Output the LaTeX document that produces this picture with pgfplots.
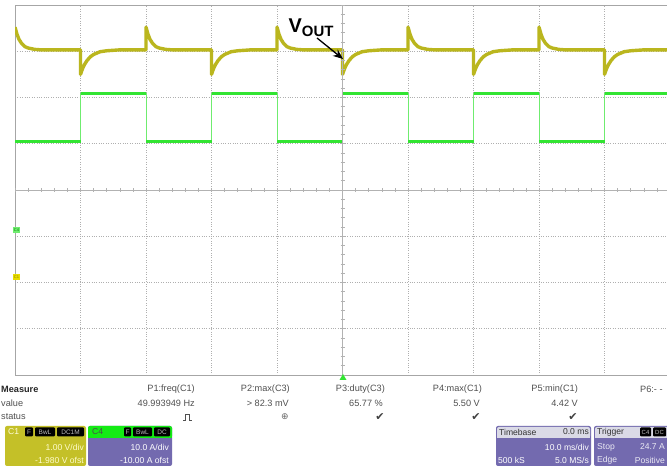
\documentclass[border=0pt]{standalone}
\usepackage{pgfplots}
\pgfplotsset{compat=1.18}
\usepackage{fontspec}
\setmainfont{Liberation Sans}
\newfontfamily\dejavu{DejaVu Sans}
\usetikzlibrary{arrows.meta}
\definecolor{ytrace}{RGB}{186,182,30}
\definecolor{gtrace}{RGB}{50,228,50}
\definecolor{gridc}{RGB}{175,175,175}
\definecolor{boxp}{RGB}{115,106,175}
\definecolor{boxy}{RGB}{196,192,40}
\definecolor{hdr}{RGB}{218,218,230}
\definecolor{txt}{RGB}{80,80,80}
\definecolor{greenhdr}{RGB}{20,235,20}

\begin{document}
\begin{tikzpicture}[x=1bp,y=1bp]
\useasboundingbox (0,0) rectangle (667,471);
\clip (0,0) rectangle (667,471);
\fill[white] (0,0) rectangle (667,471);
\begin{axis}[at={(15bp,96bp)}, anchor=south west, scale only axis,
  width=655bp, height=370bp,
  xmin=0, xmax=100, ymin=0, ymax=8,
  xtick={10,20,30,40,60,70,80,90}, ytick={1,2,3,5,6,7},
  xticklabels={}, yticklabels={},
  major tick length=0pt,
  grid=major, major grid style={gridc, dotted, line width=0.7bp},
  axis line style={gray!70, line width=0.8bp},
  clip=true]
% green (C4) current trace: thin edges
\addplot[gtrace!70!white, line width=0.8bp] coordinates {
(0,5.04)(10,5.04)(10,6.08)(20,6.08)(20,5.04)(30,5.04)(30,6.08)(40,6.08)(40,5.04)(50,5.04)
(50,6.08)(60,6.08)(60,5.04)(70,5.04)(70,6.08)(80,6.08)(80,5.04)(90,5.04)(90,6.08)(100,6.08)};
% green thick levels
\addplot[gtrace, line width=3.2bp, unbounded coords=jump] coordinates {
(0,5.04)(10,5.04)(10,nan)(10,6.08)(20,6.08)(20,nan)(20,5.04)(30,5.04)(30,nan)
(30,6.08)(40,6.08)(40,nan)(40,5.04)(50,5.04)(50,nan)(50,6.08)(60,6.08)(60,nan)
(60,5.04)(70,5.04)(70,nan)(70,6.08)(80,6.08)(80,nan)(80,5.04)(90,5.04)(90,nan)
(90,6.08)(100,6.08)};
% yellow (C1) output voltage
\addplot[ytrace, line width=3.4bp, line join=round] coordinates {
(0,7.52)(0.3,7.37)(0.6,7.26)(1,7.17)(1.5,7.1)(2,7.07)(3,7.04)(4,7.03)(10,7.03)
(10,6.5)(10.3,6.62)(10.6,6.71)(11,6.8)(11.5,6.88)(12,6.93)(13,6.99)(14,7.01)(16,7.03)(20,7.03)
(20,7.52)(20.3,7.37)(20.6,7.26)(21,7.17)(21.5,7.1)(22,7.07)(23,7.04)(24,7.03)(30,7.03)
(30,6.5)(30.3,6.62)(30.6,6.71)(31,6.8)(31.5,6.88)(32,6.93)(33,6.99)(34,7.01)(36,7.03)(40,7.03)
(40,7.52)(40.3,7.37)(40.6,7.26)(41,7.17)(41.5,7.1)(42,7.07)(43,7.04)(44,7.03)(50,7.03)
(50,6.5)(50.3,6.62)(50.6,6.71)(51,6.8)(51.5,6.88)(52,6.93)(53,6.99)(54,7.01)(56,7.03)(60,7.03)
(60,7.52)(60.3,7.37)(60.6,7.26)(61,7.17)(61.5,7.1)(62,7.07)(63,7.04)(64,7.03)(70,7.03)
(70,6.5)(70.3,6.62)(70.6,6.71)(71,6.8)(71.5,6.88)(72,6.93)(73,6.99)(74,7.01)(76,7.03)(80,7.03)
(80,7.52)(80.3,7.37)(80.6,7.26)(81,7.17)(81.5,7.1)(82,7.07)(83,7.04)(84,7.03)(90,7.03)
(90,6.5)(90.3,6.62)(90.6,6.71)(91,6.8)(91.5,6.88)(92,6.93)(93,6.99)(94,7.01)(96,7.03)(100,7.03)};
\end{axis}
% centre cross with minor ticks
\draw[gray!60, line width=0.6bp] (15,281) -- (670,281);
\draw[gray!60, line width=0.6bp] (342.5,96) -- (342.5,466);
\foreach \i in {0,...,50} \draw[gray!60, line width=0.5bp] (15+\i*13.1,279) -- (15+\i*13.1,283);
\foreach \j in {0,...,40} \draw[gray!60, line width=0.5bp] (340.5,96+\j*9.25) -- (344.5,96+\j*9.25);
% V_OUT label and arrow
\node[fill=white, inner sep=1.5bp, anchor=base west] at (287,438)
  {\bfseries\fontsize{20}{20}\selectfont V\raisebox{-4bp}{\fontsize{15}{15}\selectfont OUT}};
\draw[black, line width=1.3bp, -{Stealth[length=10bp,width=8bp]}] (317,433) -- (343,412);
% trigger marker and channel markers
\fill[gtrace] (339.5,91) -- (346.5,91) -- (343,97) -- cycle;
\fill[gtrace!70!white] (13,238) rectangle (20,244);
\node[font=\fontsize{4}{4}\selectfont, text=green!50!black, inner sep=0] at (16.5,241) {C4};
\fill[yellow!80!olive] (13,191) rectangle (20,197);
\node[font=\fontsize{4}{4}\selectfont, text=olive, inner sep=0] at (16.5,194) {C1};
% measurement table
\begin{scope}[every node/.style={inner sep=0, text=txt, font=\fontsize{9.2}{10}\selectfont}]
\node[anchor=west, text=black!85] at (1,82) {\bfseries Measure};
\node[anchor=west] at (1,68) {value};
\node[anchor=west] at (1,54) {status};
\node[anchor=east] at (195,82) {P1:freq(C1)};
\node[anchor=east] at (195,68) {49.993949 Hz};
\node[anchor=east] at (290,82) {P2:max(C3)};
\node[anchor=east] at (289,68) {> 82.3 mV};
\node[anchor=east] at (385,82) {P3:duty(C3)};
\node[anchor=east] at (383,68) {65.77 \%};
\node[anchor=east] at (482,82) {P4:max(C1)};
\node[anchor=east] at (480,68) {5.50 V};
\node[anchor=east] at (578,82) {P5:min(C1)};
\node[anchor=east] at (578,68) {4.42 V};
\node[anchor=west] at (640,82) {P6:- -};
\node[text=black!60] at (285,54) {\dejavu\fontsize{9}{9}\selectfont ⊕};
\node[text=black!75] at (380,54) {\dejavu\fontsize{11}{11}\selectfont ✔};
\node[text=black!75] at (476,54) {\dejavu\fontsize{11}{11}\selectfont ✔};
\node[text=black!75] at (573,54) {\dejavu\fontsize{11}{11}\selectfont ✔};
\end{scope}
\draw[txt, line width=0.7bp] (183,51) -- (185.5,51) -- (185.5,57) -- (189.5,57) -- (189.5,51) -- (192,51);
% C1 box
\fill[boxy, rounded corners=2bp] (5,5) rectangle (86,45);
\begin{scope}[every node/.style={inner sep=0, font=\fontsize{8.6}{9}\selectfont}]
\node[anchor=west, text=white!85!yellow] at (8,39) {C1};
\fill[black, rounded corners=1bp] (25,34.5) rectangle (33,43.5);
\fill[black, rounded corners=1bp] (35,34.5) rectangle (55,43.5);
\fill[black, rounded corners=1bp] (57,34.5) rectangle (84,43.5);
\node[text=white!75!black, font=\fontsize{6.5}{7}\selectfont] at (29,39) {F};
\node[text=white!75!black, font=\fontsize{6.5}{7}\selectfont] at (45,39) {BwL};
\node[text=white!75!black, font=\fontsize{6.5}{7}\selectfont] at (70.5,39) {DC1M};
\node[anchor=east, text=white!80!yellow] at (84,24) {1.00 V/div};
\node[anchor=east, text=white!80!yellow] at (84,11) {-1.980 V ofst};
% C4 box
\fill[boxp, rounded corners=2bp] (88,5) rectangle (172,45);
\fill[greenhdr, rounded corners=2bp] (88,33) rectangle (172,45);
\fill[greenhdr] (88,33) rectangle (172,38);
\node[anchor=west, text=black!70] at (92,39) {C4};
\fill[black, rounded corners=1bp] (124,34.5) rectangle (131,43.5);
\fill[black, rounded corners=1bp] (133,34.5) rectangle (152,43.5);
\fill[black, rounded corners=1bp] (154,34.5) rectangle (170,43.5);
\node[text=white!75!black, font=\fontsize{6.5}{7}\selectfont] at (127.5,39) {F};
\node[text=white!75!black, font=\fontsize{6.5}{7}\selectfont] at (142.5,39) {BwL};
\node[text=white!75!black, font=\fontsize{6.5}{7}\selectfont] at (162,39) {DC};
\node[anchor=east, text=white] at (169,24) {10.0 A/div};
\node[anchor=east, text=white] at (169,11) {-10.00 A ofst};
% Timebase box
\fill[boxp, rounded corners=2bp] (496,5) rectangle (591,45);
\fill[hdr, rounded corners=2bp] (497,33) rectangle (590,44);
\fill[hdr] (497,33) rectangle (590,38);
\node[anchor=west, text=black!80] at (499,39) {Timebase};
\node[anchor=east, text=black!80] at (589,39) {0.0 ms};
\node[anchor=east, text=white] at (589,24) {10.0 ms/div};
\node[anchor=west, text=white] at (498,11) {500 kS};
\node[anchor=east, text=white] at (589,11) {5.0 MS/s};
% Trigger box
\fill[boxp, rounded corners=2bp] (594,5) rectangle (690,45);
\fill[hdr, rounded corners=2bp] (595,33) rectangle (689,44);
\fill[hdr] (595,33) rectangle (689,38);
\node[anchor=west, text=black!80] at (597,39) {Trigger};
\fill[black, rounded corners=1bp] (640,34.5) rectangle (651,43.5);
\fill[black, rounded corners=1bp] (653,34.5) rectangle (666,43.5);
\node[text=white!75!black, font=\fontsize{6}{7}\selectfont] at (645.5,39) {C4};
\node[text=white!75!black, font=\fontsize{6}{7}\selectfont] at (659.5,39) {DC};
\node[anchor=west, text=white!85!boxp] at (597,24) {Stop};
\node[anchor=east, text=white!85!boxp] at (665,24) {24.7 A};
\node[anchor=west, text=white!85!boxp] at (597,11) {Edge};
\node[anchor=east, text=white!85!boxp] at (665,11) {Positive};
\end{scope}
\end{tikzpicture}
\end{document}
